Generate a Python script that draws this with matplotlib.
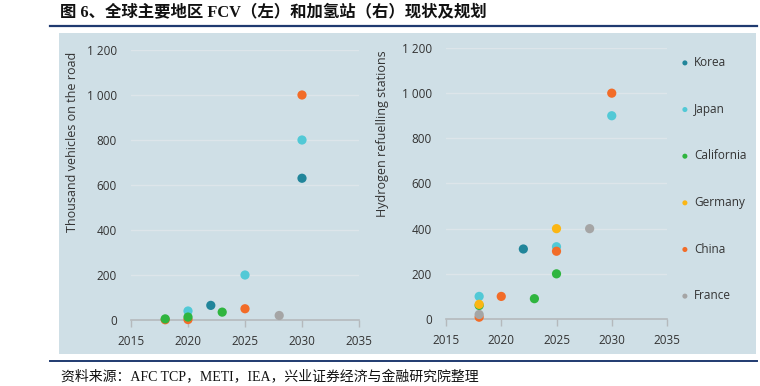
import matplotlib
matplotlib.use("Agg")
from matplotlib import pyplot as plt
from matplotlib.patches import Rectangle
from matplotlib.lines import Line2D
from matplotlib.ticker import FuncFormatter

# series shown in the legend, in legend order
countries = ["Korea", "Japan", "California", "Germany", "China", "France"]
colors = {"Korea": "#21859a", "Japan": "#52c9d6", "California": "#2fb53f",
          "Germany": "#fbb614", "China": "#f26c28", "France": "#a5a5a5"}

# left panel: thousand FCVs on the road
fcv_years = {"Korea": [2022, 2030], "Japan": [2020, 2025, 2030],
             "California": [2018, 2020, 2023], "Germany": [],
             "China": [2018, 2020, 2025, 2030], "France": [2028]}
fcv_values = {"Korea": [65, 630], "Japan": [40, 200, 800],
              "California": [5, 13, 35], "Germany": [],
              "China": [1, 2, 50, 1000], "France": [20]}

# right panel: hydrogen refuelling stations
hrs_years = {"Korea": [2022], "Japan": [2018, 2025, 2030],
             "California": [2018, 2023, 2025], "Germany": [2018, 2025],
             "China": [2018, 2020, 2025, 2030], "France": [2018, 2028]}
hrs_values = {"Korea": [310], "Japan": [100, 320, 900],
              "California": [60, 90, 200], "Germany": [65, 400],
              "China": [8, 100, 300, 1000], "France": [20, 400]}

x_ticks = [2015, 2020, 2025, 2030, 2035]
y_ticks = [0, 200, 400, 600, 800, 1000, 1200]

title = "图 6、全球主要地区 FCV（左）和加氢站（右）现状及规划"
source = "资料来源：AFC TCP，METI，IEA，兴业证券经济与金融研究院整理"

draw_order = ["Korea", "Japan", "China", "California", "Germany", "France"]

W, H = 760, 386
fig = plt.figure(figsize=(W / 100, H / 100), dpi=100)
plt.rcParams["font.family"] = ["Open Sans", "DejaVu Sans"]


def fx(px):
    return px / W


def fy(py):
    return 1 - py / H


# background panel and rules
fig.patches.append(Rectangle((fx(59), fy(354)), fx(756) - fx(59), fy(33) - fy(354),
                             transform=fig.transFigure, facecolor="#cfdfe6",
                             edgecolor="none", zorder=-5))
fig.lines.append(Line2D([fx(50), fx(757)], [fy(26), fy(26)], transform=fig.transFigure,
                        color="#1f3a70", lw=1.6))
fig.lines.append(Line2D([fx(50), fx(757)], [fy(361), fy(361)], transform=fig.transFigure,
                        color="#1f3a70", lw=1.4))

fig.text(fx(60), fy(13), title, fontsize=11.8, fontweight="bold", va="center", ha="left",
         family=["Liberation Serif", "Noto Sans CJK SC"], color="#111111")
fig.text(fx(61), fy(377), source, fontsize=10, va="center", ha="left",
         family=["Liberation Serif", "Noto Sans CJK SC"], color="#111111")


def space_thousands(v, pos):
    return "{:,.0f}".format(v).replace(",", " ")


def make_panel(rect, years, values, ylabel, label_x, label_top):
    l, r, t, b = rect
    ax = fig.add_axes([fx(l), fy(b), fx(r) - fx(l), fy(t) - fy(b)])
    ax.set_zorder(2)
    ax.set_facecolor("none")
    handles = {}
    for i, c in enumerate(draw_order):
        if not years[c]:
            continue
        handles[c] = ax.scatter(years[c], values[c], s=44, color=colors[c],
                                edgecolors="none", clip_on=False, zorder=3 + i)
    ax.set_xlim(2015, 2035)
    ax.set_ylim(0, 1200)
    ax.set_xticks(x_ticks)
    ax.set_yticks(y_ticks)
    ax.yaxis.set_major_formatter(FuncFormatter(space_thousands))
    for s in ["top", "right", "left"]:
        ax.spines[s].set_visible(False)
    ax.spines["bottom"].set_color("#b5b9bc")
    ax.spines["bottom"].set_linewidth(1.2)
    ax.tick_params(axis="x", length=5, width=1, color="#b5b9bc", labelsize=8.5,
                   labelcolor="#333333", pad=6)
    ax.tick_params(axis="y", length=0, labelsize=8.5, labelcolor="#333333", pad=10)
    ax.grid(axis="y", color="#dde5ea", lw=1)
    ax.set_axisbelow(True)
    fig.text(fx(label_x), fy(label_top), ylabel, rotation=90, va="top", ha="center",
             fontsize=9, color="#333333", zorder=3)
    return handles


make_panel((131, 359, 50, 320), fcv_years, fcv_values,
           "Thousand vehicles on the road", 72, 52)
h = make_panel((446, 667, 48, 319), hrs_years, hrs_values,
               "Hydrogen refuelling stations", 383, 50)

leg = fig.legend([h[c] for c in countries], countries, loc="upper left",
                 bbox_to_anchor=(fx(679), fy(56)), frameon=False, fontsize=8.5,
                 markerscale=0.55, labelspacing=2.85, handlelength=1.0,
                 handletextpad=0.25, borderpad=0, borderaxespad=0, labelcolor="#333333")
leg.set_zorder(3)

fig.savefig("out.png", dpi=100)
